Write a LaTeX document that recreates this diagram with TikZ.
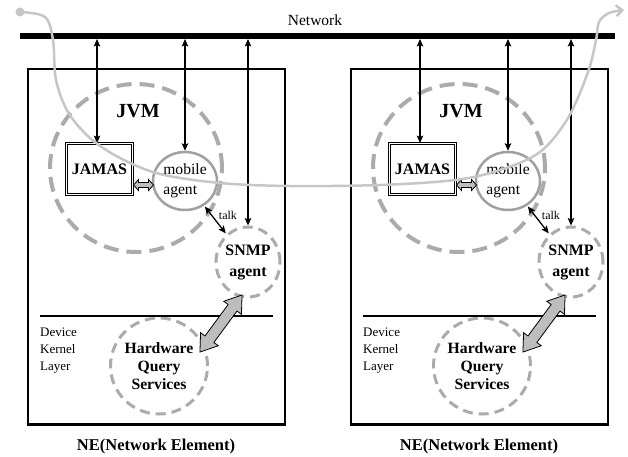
\documentclass[tikz,border=0pt]{standalone}
\usepackage{fontspec}
\setmainfont{Liberation Serif}
\usetikzlibrary{shapes.geometric,arrows.meta,calc}
\definecolor{ringgray}{HTML}{ABABAB}
\definecolor{agentgray}{HTML}{A0A0A0}
\definecolor{pathgray}{HTML}{C6C6C6}
\definecolor{fatgray}{HTML}{BDBDBD}
\newcommand{\fs}[2]{\fontsize{#1}{#2}\selectfont}
\begin{document}
\begin{tikzpicture}[x=1pt,y=-1pt,
  netbar/.style={line width=6pt},
  nebox/.style={draw,line width=2.5pt},
  jvmring/.style={draw=ringgray,line width=4pt,dash pattern=on 15pt off 8pt,ellipse,inner sep=0pt},
  svcring/.style={draw=ringgray,line width=3pt,dash pattern=on 10pt off 6pt,ellipse,inner sep=0pt,align=center,font=\bfseries},
  agentring/.style={draw=agentgray,line width=2.5pt,ellipse,inner sep=0pt,align=left},
  jamasbox/.style={draw,line width=0.8pt,double=white,double distance=1.8pt,minimum width=66pt,minimum height=51pt,inner sep=0pt,font=\bfseries\fs{16}{18}},
  link/.style={line width=1.3pt,{Stealth[length=7.5pt,width=6.5pt,inset=1.5pt]}-{Stealth[length=7.5pt,width=6.5pt,inset=1.5pt]}},
  fatarrow/.style={draw,line width=0.8pt,fill=fatgray,line join=miter},
  divider/.style={line width=2pt},
  % double-headed block arrow: length, total width, shaft width, head length
  pics/fatdbl/.style n args={4}{code={
    \path[fatarrow] ({-#1/2},0) -- ({-#1/2+#4},{#2/2}) -- ({-#1/2+#4},{#3/2})
      -- ({#1/2-#4},{#3/2}) -- ({#1/2-#4},{#2/2}) -- ({#1/2},0)
      -- ({#1/2-#4},{-#2/2}) -- ({#1/2-#4},{-#3/2}) -- ({-#1/2+#4},{-#3/2})
      -- ({-#1/2+#4},{-#2/2}) -- cycle;
  }}
]
\useasboundingbox (0,0) rectangle (628,456);

% network backbone
\coordinate (netL) at (20,36);
\coordinate (netR) at (615,36);
\draw[netbar] (netL) -- (netR);
\node[font=\fs{15.5}{18}] (netlabel) at (315,20) {Network};

\foreach \p/\dx in {L/0,R/323}{
\begin{scope}[xshift=\dx pt]
  % network element frame
  \node[nebox,minimum width=257pt,minimum height=355.5pt,inner sep=0pt] (ne\p) at (156.5,246.75) {};
  \node[font=\bfseries\fs{16.5}{18}] (nelabel\p) at (156,447) {NE(Network Element)};

  % JVM region
  \node[jvmring,minimum width=172pt,minimum height=168pt] (jvm\p) at (136,168) {};
  \node[font=\bfseries\fs{20}{22}] (jvmlabel\p) at (138,111) {JVM};

  % components
  \node[jamasbox] (jamas\p) at (99.5,169) {JAMAS};
  \node[agentring,minimum width=64pt,minimum height=58pt,font=\fs{15.6}{20}] (mob\p) at (185,181) {mobile\\agent};
  \node[svcring,minimum width=64pt,minimum height=70pt,font=\bfseries\fs{15.9}{21}] (snmp\p) at (248,262) {SNMP\\agent};
  \node[svcring,minimum width=92pt,minimum height=96pt,font=\bfseries\fs{15.7}{18.3}] (hw\p) at (159,366) {Hardware\\Query\\Services};

  % device kernel layer
  \coordinate (divA\p) at (40,316);
  \coordinate (divB\p) at (273,316);
  \draw[divider] (divA\p) -- (divB\p);
  \node[anchor=north west,align=left,inner sep=0pt,font=\fs{13}{17}] (dkl\p) at (40,328) {Device\\Kernel\\Layer};

  % links to the network
  \coordinate (t1\p) at (97,39);
  \coordinate (t2\p) at (185,39);
  \coordinate (t3\p) at (248,39);
  \draw[link] (t1\p) -- (t1\p |- jamas\p.north);
  \draw[link] (t2\p) -- (t2\p |- mob\p.north);
  \draw[link] (t3\p) -- (t3\p |- snmp\p.north);

  % local interactions
  \draw[link,shorten <=1pt,shorten >=1pt] (mob\p) -- node[pos=0.35,right=3pt,font=\fs{12}{14}] (talk\p) {talk} (snmp\p);
  \pic at (143.5,185) {fatdbl={20}{11}{5}{5}};
  \pic[rotate=53.6] at (221,323.5) {fatdbl={71}{22}{11}{16}};
\end{scope}
}

% migration path of the mobile agent
\node[circle,fill=pathgray,minimum size=9pt,inner sep=0pt] (src) at (20,12) {};
\coordinate (dst) at (624,10);
\draw[pathgray,line width=2.5pt,-{Straight Barb[length=6pt,width=11pt]}]
  plot[smooth,tension=0.55] coordinates {(src.center) (45,17) (53,40) (56,80) (68,112) (90,138) (120,158) (160,174) (220,183) (290,186) (380,185) (455,180) (500,170) (540,152) (568,118) (588,72) (596,40) (599,22) (609,13) (dst)};
\end{tikzpicture}
\end{document}
